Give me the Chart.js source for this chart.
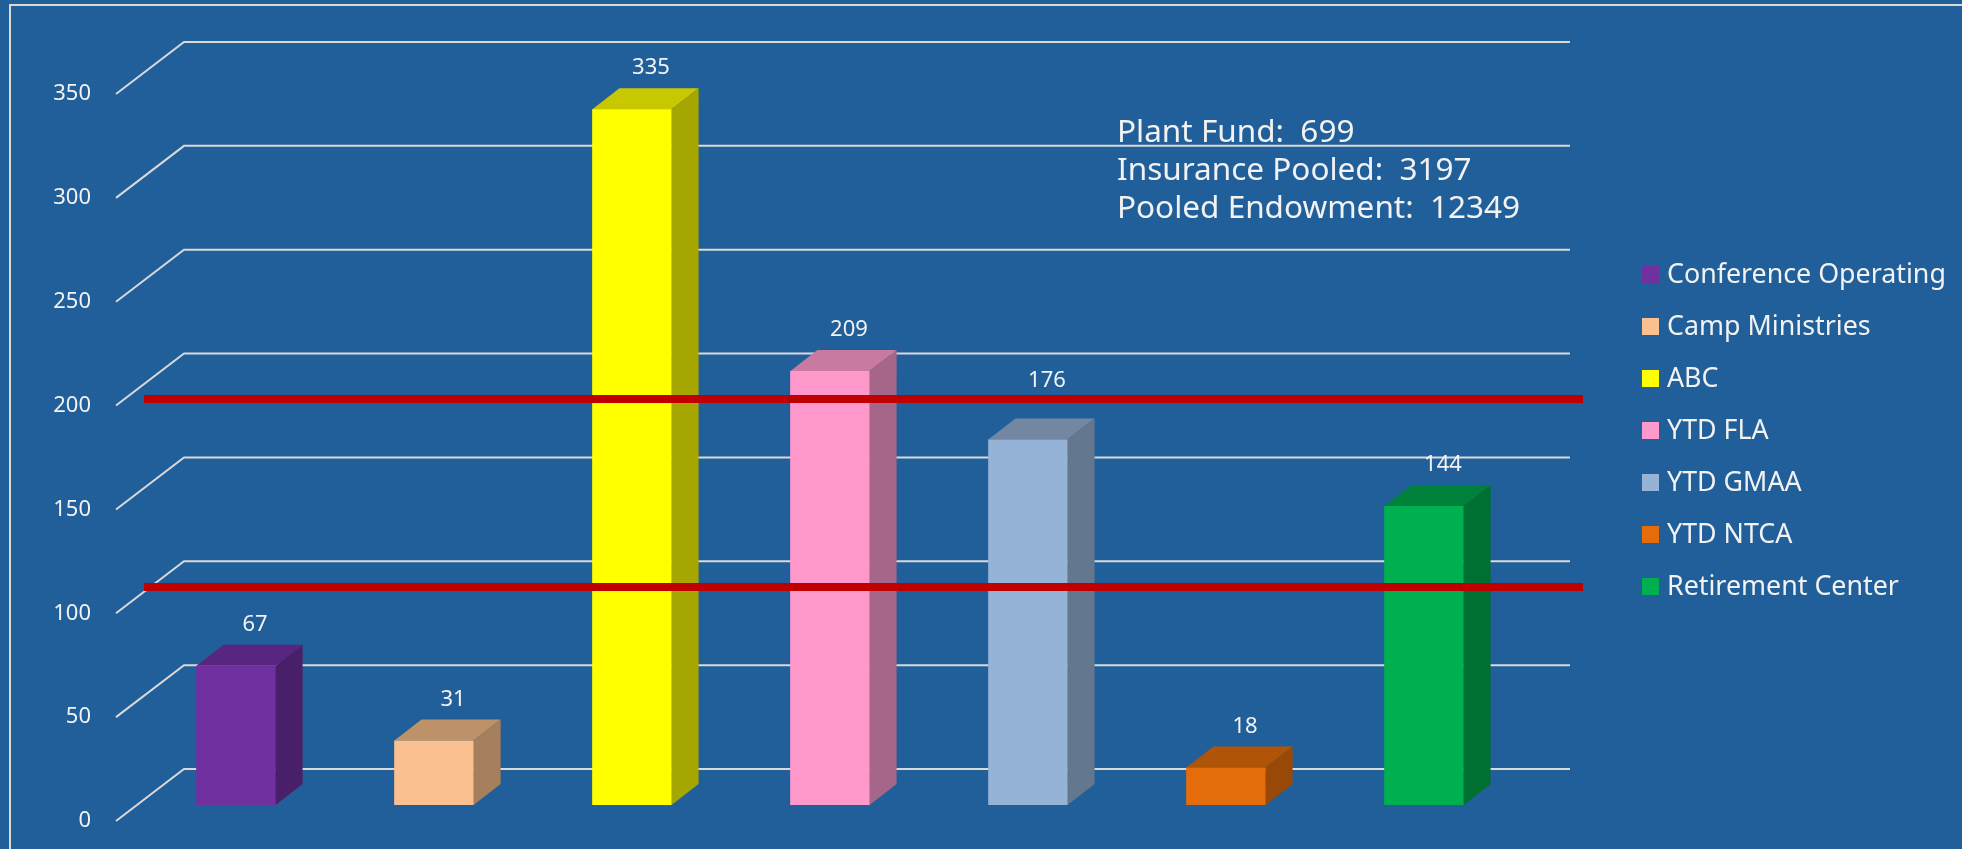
<!DOCTYPE html>
<html>
<head>
<meta charset="utf-8">
<script src="https://cdn.jsdelivr.net/npm/chart.js@4.4.1/dist/chart.umd.min.js"></script>
<style>
  html, body { margin: 0; padding: 0; background: #215F9A; }
  #wrap { width: 1962px; height: 849px; position: relative; }
</style>
</head>
<body>
<div id="wrap"><canvas id="fundChart"></canvas></div>
<script>
// chart data
var categories = ['Conference Operating', 'Camp Ministries', 'ABC', 'YTD FLA', 'YTD GMAA', 'YTD NTCA', 'Retirement Center'];
var values = [67, 31, 335, 209, 176, 18, 144];
var yTicks = [0, 50, 100, 150, 200, 250, 300, 350];
var limitLines = [195.5, 105];
var noteLines = ['Plant Fund:  699', 'Insurance Pooled:  3197', 'Pooled Endowment:  12349'];

// colours: front, top, side
var frontColors = ['#7030A0', '#FAC090', '#FFFF00', '#FF99CC', '#95B3D7', '#E46C0A', '#00B050'];
var topColors   = ['#582680', '#BE9268', '#C8C800', '#C87AA0', '#7487A2', '#B05508', '#00813B'];
var sideColors  = ['#4A1F6A', '#A6805C', '#A6A600', '#A6668A', '#63778F', '#984807', '#007032'];

var FONT = '"Noto Sans", "Open Sans", sans-serif';
var TEXT = '#F2F2F2';
var GRID = '#D9D9D9';

/**
 * Draws the 3D walls, bar tops and sides, labels and legend
 */
var threeD = {
    id: 'threeD',
    beforeDatasetsDraw: function(chart) {
        var ctx = chart.ctx, a = chart.chartArea, y = chart.scales.y;
        ctx.save();
        // outer frame
        ctx.strokeStyle = GRID;
        ctx.lineWidth = 2;
        ctx.beginPath();
        ctx.moveTo(10, 900);
        ctx.lineTo(10, 5);
        ctx.lineTo(1970, 5);
        ctx.stroke();
        // grid lines: front edge -> back wall
        yTicks.forEach(function(v) {
            var py = y.getPixelForValue(v);
            ctx.beginPath();
            ctx.moveTo(a.left - 21, py + 16);
            ctx.lineTo(a.left + 47, py - 36);
            ctx.lineTo(a.right + 47, py - 36);
            ctx.stroke();
        });
        ctx.restore();
    },
    afterDatasetsDraw: function(chart) {
        var ctx = chart.ctx, a = chart.chartArea, y = chart.scales.y;
        var meta = chart.getDatasetMeta(0);
        var dx = 27, dy = 21;
        var redY = limitLines.map(function(v) { return y.getPixelForValue(v); });
        ctx.save();
        meta.data.forEach(function(bar, i) {
            var l = bar.x - bar.width / 2, r = bar.x + bar.width / 2;
            var t = bar.y, b = bar.base;
            // front face (repainted so nothing shows through)
            ctx.fillStyle = frontColors[i];
            ctx.fillRect(l, t, r - l, b - t);
            // top face
            ctx.fillStyle = topColors[i];
            ctx.beginPath();
            ctx.moveTo(l, t);
            ctx.lineTo(l + dx, t - dy);
            ctx.lineTo(r + dx, t - dy);
            ctx.lineTo(r, t);
            ctx.closePath();
            ctx.fill();
            // side face
            ctx.fillStyle = sideColors[i];
            ctx.beginPath();
            ctx.moveTo(r, t);
            ctx.lineTo(r + dx, t - dy);
            ctx.lineTo(r + dx, b - dy);
            ctx.lineTo(r, b);
            ctx.closePath();
            ctx.fill();
            // value label, pushed above a red line if it would sit on it
            var ly = t - 41;
            redY.forEach(function(ry) {
                if (Math.abs(ly - ry) < 14) ly = ry - 18;
            });
            ctx.fillStyle = TEXT;
            ctx.font = '22px ' + FONT;
            ctx.textAlign = 'center';
            ctx.textBaseline = 'middle';
            ctx.fillText(String(values[i]), bar.x + 19, ly);
        });
        // red limit lines
        ctx.strokeStyle = '#C00000';
        ctx.lineWidth = 8;
        redY.forEach(function(py) {
            ctx.beginPath();
            ctx.moveTo(a.left + 7, py);
            ctx.lineTo(a.right + 60, py);
            ctx.stroke();
        });
        // note text
        ctx.fillStyle = TEXT;
        ctx.font = '31.5px ' + FONT;
        ctx.textAlign = 'left';
        ctx.textBaseline = 'alphabetic';
        noteLines.forEach(function(s, i) {
            ctx.fillText(s, 1117, 142 + i * 38);
        });
        // legend
        ctx.font = '26.8px ' + FONT;
        ctx.textBaseline = 'middle';
        categories.forEach(function(c, i) {
            var cy = 274 + i * 52;
            ctx.fillStyle = frontColors[i];
            ctx.fillRect(1642, cy - 8, 17, 17);
            ctx.fillStyle = TEXT;
            ctx.fillText(c, 1667, cy + 1);
        });
        ctx.restore();
    }
};

function initFundChart() {
    var ctx = document.getElementById('fundChart').getContext('2d');
    new Chart(ctx, {
        type: 'bar',
        data: {
            labels: categories,
            datasets: [{
                data: values,
                backgroundColor: frontColors,
                borderWidth: 0,
                inflateAmount: 0,
                barPercentage: 0.4,
                categoryPercentage: 1
            }]
        },
        options: {
            responsive: true,
            maintainAspectRatio: false,
            animation: false,
            layout: {
                padding: { left: 0, top: 78, right: 439, bottom: 44 }
            },
            plugins: {
                legend: { display: false },
                tooltip: { enabled: false }
            },
            scales: {
                x: { display: false },
                // tick labels, drawn on the front edge of the floor
                yLabels: {
                    position: 'left',
                    weight: 2,
                    min: 0,
                    max: 350,
                    afterFit: function(s) { s.width = 91; },
                    afterBuildTicks: function(s) {
                        s.ticks = yTicks.map(function(v) { return { value: v }; });
                    },
                    border: { display: false },
                    grid: { display: false, drawTicks: false },
                    ticks: {
                        color: TEXT,
                        padding: 0,
                        labelOffset: 16,
                        font: { family: FONT, size: 22 }
                    }
                },
                // value scale of the bars' front faces
                y: {
                    position: 'left',
                    weight: 1,
                    min: 0,
                    max: 350,
                    afterFit: function(s) { s.width = 46; },
                    border: { display: false },
                    grid: { display: false, drawTicks: false },
                    ticks: { display: false, padding: 0 }
                }
            }
        },
        plugins: [threeD]
    });
}

initFundChart();
</script>
</body>
</html>
